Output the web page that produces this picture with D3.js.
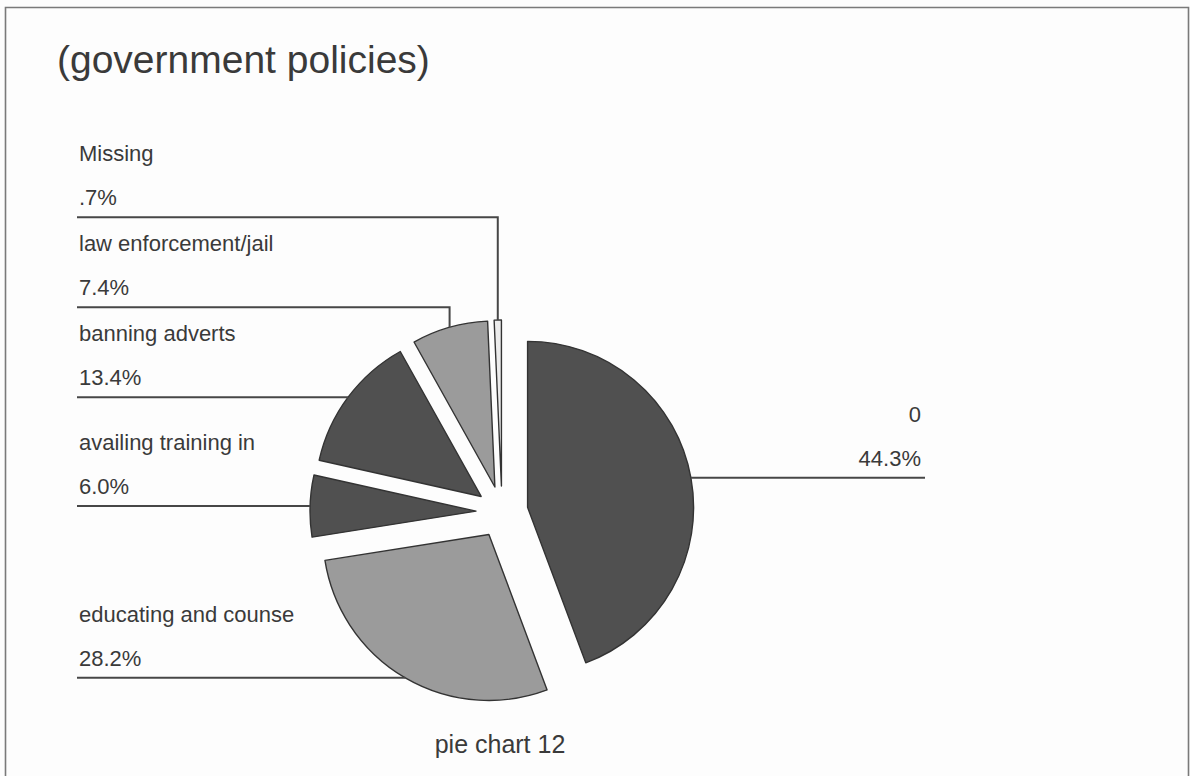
<!DOCTYPE html>
<html>
<head>
<meta charset="utf-8">
<script src="https://cdn.jsdelivr.net/npm/d3@7"></script>
<style>
  html, body { margin: 0; padding: 0; background: #fdfdfd; }
  svg { display: block; }
  text { font-family: "Liberation Sans", Arial, sans-serif; fill: #3a3a3a; }
</style>
</head>
<body>
<svg id="chart" width="1190" height="776"></svg>
<script>
// Responses to the "government policies" question, percent of respondents
const categories = ["0", "educating and counse", "availing training in", "banning adverts", "law enforcement/jail", "Missing"];
const percents = [44.3, 28.2, 6.0, 13.4, 7.4, 0.7];
const sliceFills = ["#505050", "#9b9b9b", "#505050", "#505050", "#9b9b9b", "#ececec"];

const titleText = "(government policies)";
const footerText = "pie chart 12";

const W = 1190, H = 776;
const svg = d3.select("#chart");

// page frame
const frame = svg.append("g").attr("fill", "none").attr("stroke", "#7a7a7a").attr("stroke-width", 1.6);
frame.append("path").attr("d", `M5.5,${H}V7.5H1188.5V${H}`);

svg.append("text")
  .attr("x", 57).attr("y", 73)
  .attr("font-size", 39)
  .text(titleText);

// pie geometry
const cx = 502, cy = 512, radius = 166, explode = 26;
const g = svg.append("g").attr("transform", `translate(${cx},${cy})`);

const pie = d3.pie().sort(null).value(d => d.value).startAngle(0).endAngle(2 * Math.PI);
const arcs = pie(categories.map((c, i) => ({ name: c, value: percents[i], fill: sliceFills[i] })));
const arcGen = d3.arc().innerRadius(0).outerRadius(radius);

const dirOf = a => [Math.sin(a), -Math.cos(a)];

arcs.forEach(a => {
  a.mid = (a.startAngle + a.endAngle) / 2;
  const [dx, dy] = dirOf(a.mid);
  a.off = [dx * explode, dy * explode];
  // point on the outer arc at the middle angle, in page coords
  a.edge = [cx + a.off[0] + dx * radius, cy + a.off[1] + dy * radius];
});

g.selectAll("path.slice")
  .data(arcs)
  .join("path")
  .attr("class", "slice")
  .attr("transform", d => `translate(${d.off[0]},${d.off[1]})`)
  .attr("d", arcGen)
  .attr("fill", d => d.data.fill)
  .attr("stroke", "#333")
  .attr("stroke-width", 1.4)
  .attr("stroke-linejoin", "round");

// label formatting: one decimal, no leading zero
const fmtPct = v => d3.format(".1f")(v).replace(/^0\./, ".") + "%";

// left-hand labels are stacked upward from the bottom so they never overlap
const leftX = 77, rightX = 925, gap = 90;
const left = arcs.filter(a => a.edge[0] < cx).sort((a, b) => b.edge[1] - a.edge[1]);
let prev = Infinity;
left.forEach(a => {
  a.slotY = Math.min(a.edge[1], prev - gap);
  prev = a.slotY;
});
const right = arcs.filter(a => a.edge[0] >= cx);
right.forEach(a => { a.slotY = a.edge[1]; });

const leaders = svg.append("g").attr("fill", "none").attr("stroke", "#474747").attr("stroke-width", 2);

left.forEach(a => {
  const pts = [[leftX, a.slotY], [a.edge[0], a.slotY]];
  if (Math.abs(a.slotY - a.edge[1]) > 1) pts.push([a.edge[0], a.edge[1]]);
  leaders.append("path").attr("d", d3.line()(pts));
  svg.append("text").attr("x", leftX + 2).attr("y", a.slotY - 56).attr("font-size", 22).text(a.data.name);
  svg.append("text").attr("x", leftX + 2).attr("y", a.slotY - 12).attr("font-size", 22).text(fmtPct(a.data.value));
});

right.forEach(a => {
  leaders.append("path").attr("d", d3.line()([[a.edge[0], a.slotY], [rightX, a.slotY]]));
  svg.append("text").attr("x", rightX - 4).attr("y", a.slotY - 56).attr("font-size", 22)
    .attr("text-anchor", "end").text(a.data.name);
  svg.append("text").attr("x", rightX - 4).attr("y", a.slotY - 12).attr("font-size", 22)
    .attr("text-anchor", "end").text(fmtPct(a.data.value));
});

svg.append("text")
  .attr("x", cx - 2).attr("y", 753)
  .attr("font-size", 25)
  .attr("text-anchor", "middle")
  .text(footerText);
</script>
</body>
</html>
